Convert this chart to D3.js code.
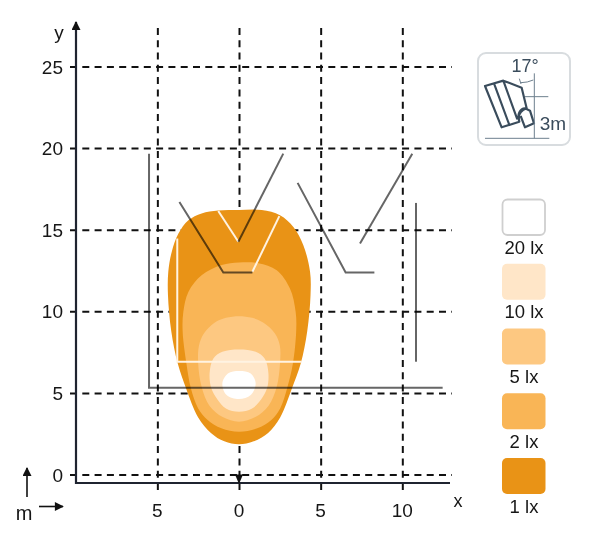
<!DOCTYPE html>
<html><head><meta charset="utf-8">
<script src="https://cdn.jsdelivr.net/npm/d3@7"></script>
<style>
html,body{margin:0;padding:0;background:#fff}
svg{display:block}
text{font-family:"Liberation Sans",Arial,sans-serif;fill:#161616}
</style></head><body><svg id="c" width="591" height="542"></svg>
<script>
const xTicks=[-5,0,5,10];
const yTicks=[0,5,10,15,20,25];
const levels=["1 lx","2 lx","5 lx","10 lx","20 lx"];
const levelColors=["#E99316","#F9B556","#FDC881","#FFE6C8","#FFFFFF"];
const contour1=[[0,16.21],[-1.27,16.17],[-2.29,16],[-3.1,15.58],[-3.71,14.76],[-4.12,13.64],[-4.33,12.42],[-4.35,11],[-4.15,8.8],[-3.75,6.8],[-3.25,5.3],[-2.5,3.5],[-1.72,2.55],[-0.9,2.03],[0,1.85],[0.9,2.03],[1.78,2.55],[2.52,3.5],[3.25,5.3],[3.78,6.8],[4.18,8.8],[4.38,11],[4.35,12.42],[3.94,14.05],[3.33,15.17],[2.51,15.89],[1.39,16.2]];
const contour2=[[0,12.99],[-1.06,12.83],[-2.29,12.21],[-3.1,11.19],[-3.41,9.96],[-3.45,8.75],[-3.22,6.8],[-2.95,5.3],[-2.5,4.05],[-1.92,3.34],[-1.08,2.83],[0,2.62],[1.12,2.83],[1.98,3.34],[2.52,4.05],[2.95,5.3],[3.3,6.8],[3.5,8.75],[3.47,9.96],[3.12,11.4],[2.31,12.52],[1.18,12.95]];
const contour5=[[0,9.7],[-0.8,9.6],[-1.5,9.3],[-2.15,8.64],[-2.45,7.9],[-2.5,6.8],[-2.29,5.38],[-1.8,4.2],[-1.0,3.52],[0,3.23],[1.0,3.52],[1.8,4.2],[2.31,5.38],[2.51,6.8],[2.5,7.9],[2.2,8.64],[1.5,9.3],[0.8,9.6]];
const contour10=[[0,7.66],[-1.02,7.52],[-1.58,7.1],[-1.8,6.2],[-1.7,5.3],[-1.32,4.6],[-0.8,4.05],[0,3.85],[0.8,4.05],[1.35,4.6],[1.72,5.3],[1.8,6.2],[1.58,7.1],[1.02,7.52]];
const contour20=[[0,6.34],[-0.68,6.19],[-1.02,5.58],[-0.76,4.87],[0,4.62],[0.72,4.87],[1.02,5.58],[0.72,6.19]];
const contours=[contour1,contour2,contour5,contour10,contour20];
const roomLines=[
 [[-5.51,19.66],[-5.51,5.32],[12.47,5.32]],
 [[-3.65,16.7],[-0.96,12.38],[0.82,12.38]],
 [[-0.04,14.26],[2.71,19.66]],
 [[3.59,17.87],[6.53,12.38],[8.29,12.38]],
 [[7.41,14.15],[10.61,19.66]],
 [[10.84,16.64],[10.84,6.91]]];
const lightLines=[
 [[-3.78,14.46],[-3.78,6.91],[3.84,6.91]],
 [[-1.27,16.15],[-0.04,14.26]],
 [[2.47,15.83],[0.82,12.42]]];

const svg=d3.select("#c");
const x=d3.scaleLinear().domain([-10,13]).range([75.7,451.3]);
const y=d3.scaleLinear().domain([0,25]).range([474.5,66.5]);
const ink="#1f2430";
svg.append("defs").html(`<marker id="ah" viewBox="0 0 10 10" refX="9" refY="5" markerWidth="11" markerHeight="9" markerUnits="userSpaceOnUse" orient="auto"><path d="M0,0L10,5L0,10Z" fill="#111"/></marker>`);

const gx=svg.append("g").attr("transform","translate(0,490)")
 .call(d3.axisTop(x).tickValues(xTicks).tickSize(463).tickFormat(""));
const gy=svg.append("g").attr("transform","translate(70,0)")
 .call(d3.axisRight(y).tickValues(yTicks).tickSize(382).tickFormat(""));
[gx,gy].forEach(g=>{g.select(".domain").remove();
 g.selectAll(".tick line").attr("stroke","#111").attr("stroke-width",2).attr("stroke-dasharray","7 5.3");});

const blob=d3.line().x(d=>x(d[0])).y(d=>y(d[1])).curve(d3.curveCatmullRomClosed.alpha(0.5));
svg.append("g").selectAll("path").data(contours).join("path")
 .attr("d",blob).attr("fill",(d,i)=>levelColors[i]);

const poly=d3.line().x(d=>x(d[0])).y(d=>y(d[1]));
svg.append("g").selectAll("path").data(lightLines).join("path")
 .attr("d",poly).attr("fill","none").attr("stroke","#FFF3E2").attr("stroke-width",2);
svg.append("g").style("mix-blend-mode","multiply").selectAll("path").data(roomLines).join("path")
 .attr("d",poly).attr("fill","none").attr("stroke","#666").attr("stroke-width",2);

svg.append("path").attr("d","M76,483H450").attr("stroke",ink).attr("stroke-width",2.2).attr("fill","none");
svg.append("path").attr("d","M76,484V22").attr("stroke",ink).attr("stroke-width",2.2).attr("fill","none").attr("marker-end","url(#ah)");
svg.append("path").attr("d","M235,474.5H243L239,484Z").attr("fill","#111");

svg.append("g").selectAll("text").data(xTicks).join("text")
 .attr("x",d=>x(d)).attr("y",516.5).attr("text-anchor","middle").attr("font-size",19).text(d=>Math.abs(d));
svg.append("g").selectAll("text").data(yTicks).join("text")
 .attr("x",63).attr("y",d=>y(d)+7).attr("text-anchor","end").attr("font-size",19).text(d=>d);
svg.append("text").attr("x",59).attr("y",39).attr("text-anchor","middle").attr("font-size",19).text("y");
svg.append("text").attr("x",458).attr("y",507).attr("text-anchor","middle").attr("font-size",18).text("x");
svg.append("text").attr("x",24).attr("y",520).attr("text-anchor","middle").attr("font-size",20).text("m");
svg.append("path").attr("d","M27,497V468").attr("stroke","#111").attr("stroke-width",1.6).attr("marker-end","url(#ah)");
svg.append("path").attr("d","M39,506.5H63").attr("stroke","#111").attr("stroke-width",1.6).attr("marker-end","url(#ah)");

const legendOrder=[4,3,2,1,0];
const ly=d3.scalePoint().domain(legendOrder).range([199,458]);
const leg=svg.append("g").selectAll("g").data(legendOrder).join("g");
leg.append("rect").attr("x",d=>d===4?502.5:502).attr("y",d=>d===4?ly(d)+.5:ly(d)).attr("width",d=>d===4?42.5:43.5)
 .attr("height",d=>d===4?35.5:36).attr("rx",5)
 .attr("fill",d=>levelColors[d]).attr("stroke",d=>d===4?"#cfcfcf":"none").attr("stroke-width",1.8);
leg.append("text").attr("x",524).attr("y",d=>ly(d)+54.5).attr("text-anchor","middle").attr("font-size",18.5).text(d=>levels[d]);

const ic=svg.append("g");
ic.append("rect").attr("x",478).attr("y",53).attr("width",92).attr("height",92).attr("rx",8).attr("fill","#fff").attr("stroke","#d8dcdf").attr("stroke-width",2);
const icon=ic.append("g").attr("transform","translate(470,40) scale(.3333)").attr("fill","none").attr("stroke","#3a4c5c");
icon.append("path").attr("stroke-width",6.5).attr("stroke-linejoin","round").attr("d","M45,138L100,122L155,143L170,205C150,212 143,225 148,245L95,262Z M72,130L118,255 M100,122L142,238 M148,245C140,225 150,205 165,205L180,212L192,250L165,262L152,228");
icon.append("path").attr("stroke-width",3).attr("stroke","#6d7f8e").attr("d","M193,100V295 M165,170H235 M45,295H238 M148,116L153,132 M153,128Q172,128 190,120");
ic.append("text").attr("x",525).attr("y",72).attr("text-anchor","middle").attr("font-size",18).style("fill","#3a4c5c").text("17°");
ic.append("text").attr("x",553).attr("y",130).attr("text-anchor","middle").attr("font-size",19).style("fill","#3a4c5c").text("3m");
</script></body></html>
